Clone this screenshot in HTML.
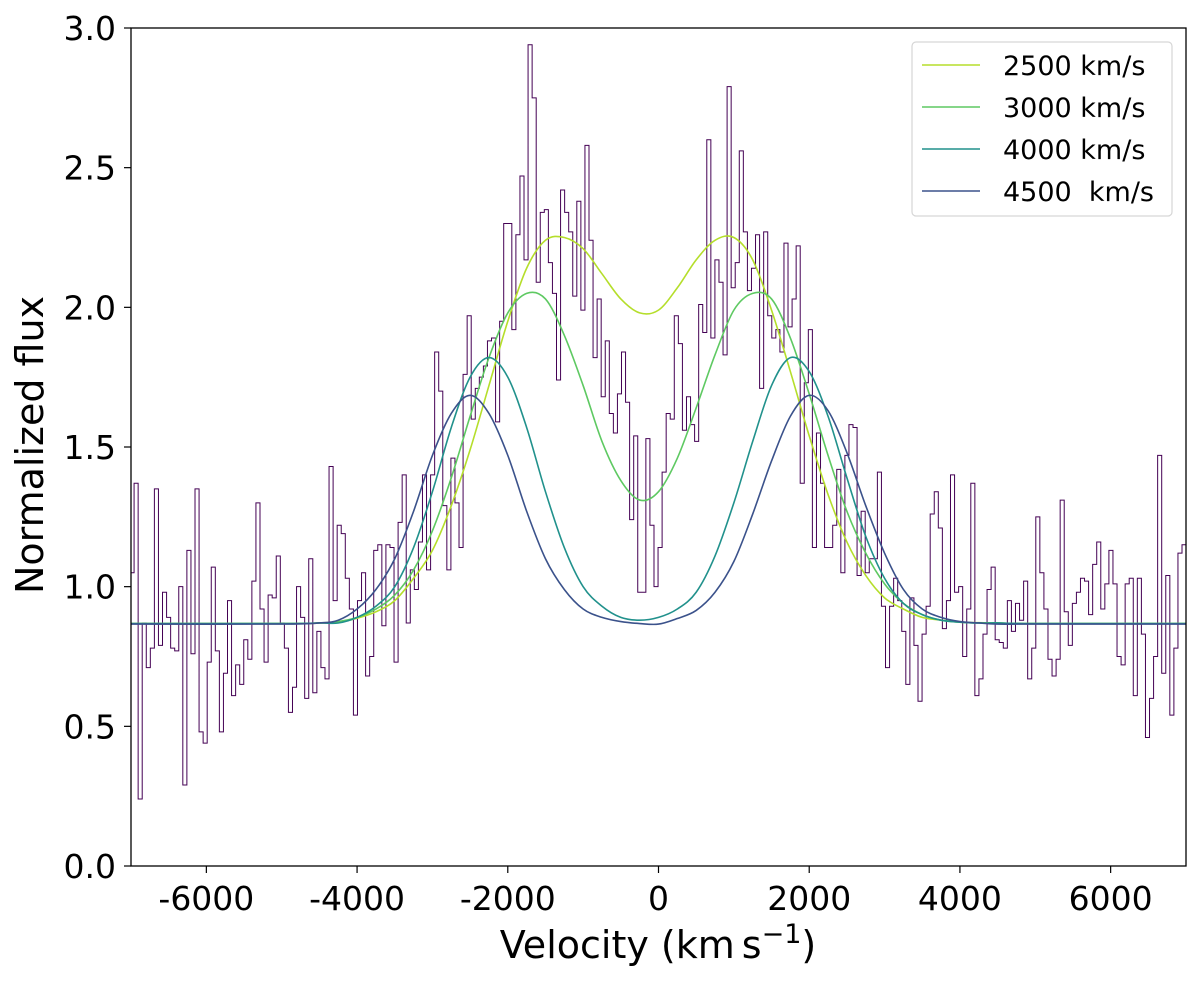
<!DOCTYPE html>
<html><head><meta charset="utf-8"><style>
html,body{margin:0;padding:0;background:#fff;}
svg{display:block;font-family:"DejaVu Sans","Liberation Sans",sans-serif;}
</style></head><body>
<svg id="chart" width="1200" height="981" viewBox="0 0 1200 981">
<rect width="1200" height="981" fill="#fff"/>
<defs><clipPath id="plotclip"><rect x="131" y="28" width="1055" height="838"/></clipPath></defs>
<g id="plot" clip-path="url(#plotclip)"></g>
<rect x="131" y="28" width="1055" height="838" fill="none" stroke="#000" stroke-width="1.3"/>
<g id="xticks"></g>
<g id="yticks"></g>
<text x="658" y="958" font-size="38" text-anchor="middle">Velocity (km<tspan dx="7">s</tspan><tspan dy="-15" font-size="27">−1</tspan><tspan dy="15">)</tspan></text>
<text transform="translate(43,445) rotate(-90)" font-size="38" text-anchor="middle">Normalized flux</text>
<g>
<rect x="912" y="42" width="260" height="174" rx="4" fill="#fff" fill-opacity="0.8" stroke="#d6d6d6" stroke-width="1.2"/>
<g id="legend-entries"></g>
</g>
</svg>
<script>
const histFlux = [
1.05,1.37,0.24,0.87,0.71,0.78,1.35,0.79,0.98,0.89,0.78,0.77,1.0,0.29,1.13,0.76,1.35,0.48,0.44,0.73,
1.07,0.77,0.48,0.69,0.95,0.61,0.72,0.65,0.81,0.74,1.02,1.30,0.92,0.73,0.97,0.96,1.11,0.87,0.78,0.55,
0.64,1.00,0.89,0.60,1.10,0.62,0.84,0.71,0.67,1.43,0.95,1.22,1.19,1.03,0.92,0.54,0.95,1.05,0.68,0.75,
1.13,1.15,0.86,1.15,1.14,0.73,
1.23,1.40,0.87,1.06,0.99,1.16,1.40,1.06,1.40,1.84,1.70,1.29,1.06,1.46,1.30,1.14,1.76,1.97,1.60,1.71,
1.75,1.79,1.88,1.89,1.59,1.95,2.30,2.30,1.92,2.26,2.47,2.17,2.94,2.75,2.09,2.34,2.35,2.16,2.05,1.74,
2.42,2.34,2.27,2.04,2.38,1.99,2.58,2.24,1.82,2.03,1.68,1.88,1.62,1.55,1.69,1.84,1.66,1.24,1.54,0.98,
0.98,1.53,1.22,1.00,
1.14,1.41,1.62,1.60,1.97,1.87,1.56,1.68,1.58,1.52,2.01,1.91,2.60,1.89,2.17,2.09,1.83,2.79,2.07,2.16,
2.56,2.27,2.06,2.14,2.26,1.71,2.27,1.97,1.89,1.92,1.84,2.23,1.93,2.03,2.22,1.37,1.73,1.92,1.14,1.55,
1.37,1.14,1.14,1.22,1.42,1.05,1.47,1.58,1.57,1.04,1.27,1.05,1.10,1.10,1.41,0.93,0.71,0.93,1.03,0.95,
0.84,0.65,0.96,
0.79,0.59,0.83,0.93,1.26,1.34,1.21,0.85,0.95,1.40,0.98,1.00,0.75,0.92,1.37,0.61,0.67,0.83,0.99,1.07,
0.81,0.80,0.78,0.95,0.84,0.94,0.88,1.02,0.67,0.78,1.25,1.05,0.92,0.74,0.68,0.74,1.31,0.91,0.79,0.94,
0.98,1.03,1.02,0.90,1.08,1.16,0.92,1.01,1.13,1.01,0.75,0.72,1.01,1.03,0.61,1.03,0.83,0.46,0.60,0.75,
1.47,0.69,1.04,0.54,0.78,1.12,1.15];
const histStart = -7013;
const histBinWidth = 53.9;

const modelVel = [-7000,-5000,-4500,-4250,-4000,-3750,-3500,-3250,-3000,-2750,-2500,-2250,-2000,-1750,-1500,-1250,-1000,-750,-500,-250,0,250,500,750,1000,1250,1500,1750,2000,2250,2500,2750,3000,3250,3500,3750,4000,4250,4500,5000,7000];
const model2500 = [0.868,0.868,0.87,0.873,0.887,0.91,0.95,1.03,1.13,1.29,1.49,1.72,1.95,2.14,2.24,2.25,2.21,2.12,2.03,1.98,1.99,2.07,2.17,2.24,2.25,2.17,1.99,1.77,1.54,1.33,1.16,1.04,0.96,0.92,0.89,0.88,0.873,0.871,0.87,0.868,0.868];
const model3000 = [0.868,0.868,0.87,0.875,0.89,0.92,0.97,1.06,1.20,1.39,1.61,1.82,1.98,2.05,2.03,1.90,1.72,1.52,1.38,1.31,1.34,1.46,1.64,1.83,1.99,2.05,2.03,1.89,1.69,1.47,1.27,1.12,1.01,0.94,0.90,0.88,0.873,0.87,0.87,0.868,0.868];
const model4000 = [0.868,0.868,0.87,0.87,0.89,0.93,1.00,1.14,1.34,1.57,1.75,1.82,1.75,1.57,1.34,1.14,1.00,0.93,0.89,0.88,0.89,0.92,0.98,1.11,1.30,1.52,1.72,1.82,1.77,1.61,1.39,1.18,1.03,0.94,0.90,0.88,0.873,0.87,0.87,0.868,0.868];
const model4500 = [0.866,0.866,0.87,0.88,0.92,0.99,1.10,1.27,1.47,1.62,1.685,1.62,1.47,1.27,1.10,0.99,0.92,0.89,0.875,0.868,0.866,0.886,0.915,0.98,1.09,1.26,1.45,1.61,1.685,1.63,1.48,1.29,1.12,0.99,0.92,0.89,0.875,0.87,0.866,0.866,0.866];
const legendLabels = ["2500 km/s","3000 km/s","4000 km/s","4500  km/s"];
const xTickValues = [-6000,-4000,-2000,0,2000,4000,6000];
const yTickValues = [0.0,0.5,1.0,1.5,2.0,2.5,3.0];

const NS = "http://www.w3.org/2000/svg";
const X0 = 131, X1 = 1186, Y0 = 866, Y1 = 28;
const xMin = -7000, xMax = 7000, yMin = 0, yMax = 3;
function xs(v){ return X0 + (v - xMin) / (xMax - xMin) * (X1 - X0); }
function ys(v){ return Y0 - (v - yMin) / (yMax - yMin) * (Y0 - Y1); }
function mk(tag, attrs, parent){ const e = document.createElementNS(NS, tag); for (const k in attrs) e.setAttribute(k, attrs[k]); parent.appendChild(e); return e; }

const plot = document.getElementById('plot');

let d = "";
histFlux.forEach((f, i) => {
  const a = xs(histStart + i * histBinWidth), b = xs(histStart + (i + 1) * histBinWidth), y = ys(f);
  d += (i === 0 ? "M" : "L") + a.toFixed(2) + "," + y.toFixed(2) + "L" + b.toFixed(2) + "," + y.toFixed(2);
});
const hist = mk('path', {d: d, fill: 'none', stroke: '#440154', 'stroke-width': 1}, plot);



function smoothPath(xv, yv){
  const p = xv.map((v, i) => [xs(v), ys(yv[i])]);
  let s = "M" + p[0][0].toFixed(2) + "," + p[0][1].toFixed(2);
  for (let i = 0; i < p.length - 1; i++) {
    const p0 = p[Math.max(0, i - 1)], p1 = p[i], p2 = p[i + 1], p3 = p[Math.min(p.length - 1, i + 2)];
    const c1x = p1[0] + (p2[0] - p0[0]) / 6, c1y = p1[1] + (p2[1] - p0[1]) / 6;
    const c2x = p2[0] - (p3[0] - p1[0]) / 6, c2y = p2[1] - (p3[1] - p1[1]) / 6;
    s += "C" + c1x.toFixed(2) + "," + c1y.toFixed(2) + " " + c2x.toFixed(2) + "," + c2y.toFixed(2) + " " + p2[0].toFixed(2) + "," + p2[1].toFixed(2);
  }
  return s;
}
const models = [model2500, model3000, model4000, model4500];
const colors = ['#b5de2b', '#5ec962', '#21918c', '#3b528b'];
const names = ['model-2500', 'model-3000', 'model-4000', 'model-4500'];
models.forEach((m, k) => {
  const line = mk('path', {d: smoothPath(modelVel, m), fill: 'none', stroke: colors[k], 'stroke-width': 1.6}, plot);
  
  
});

const xg = document.getElementById('xticks');
xTickValues.forEach(v => {
  const x = xs(v);
  const t = mk('line', {x1: x, x2: x, y1: Y0, y2: Y0 + 7, stroke: '#000', 'stroke-width': 1.2}, xg);
  
  
  const l = mk('text', {x: x, y: 910, 'font-size': 33, 'text-anchor': 'middle'}, xg);
  l.textContent = String(v);
  
  
});
const yg = document.getElementById('yticks');
yTickValues.forEach(v => {
  const y = ys(v);
  const t = mk('line', {x1: X0 - 7, x2: X0, y1: y, y2: y, stroke: '#000', 'stroke-width': 1.2}, yg);
  
  
  const l = mk('text', {x: 116, y: y + 12, 'font-size': 33, 'text-anchor': 'end'}, yg);
  l.textContent = v.toFixed(1);
  
  
});
const lg = document.getElementById('legend-entries');
legendLabels.forEach((lab, k) => {
  const y = 65 + k * 42;
  const ln = mk('line', {x1: 922, x2: 980, y1: y, y2: y, stroke: colors[k], 'stroke-width': 1.6}, lg);
  
  
  const tx = mk('text', {x: 1003, y: y + 10, 'font-size': 27}, lg);
  tx.setAttribute('style', 'white-space:pre');
  tx.textContent = lab;
  
  
});
</script>
</body></html>
